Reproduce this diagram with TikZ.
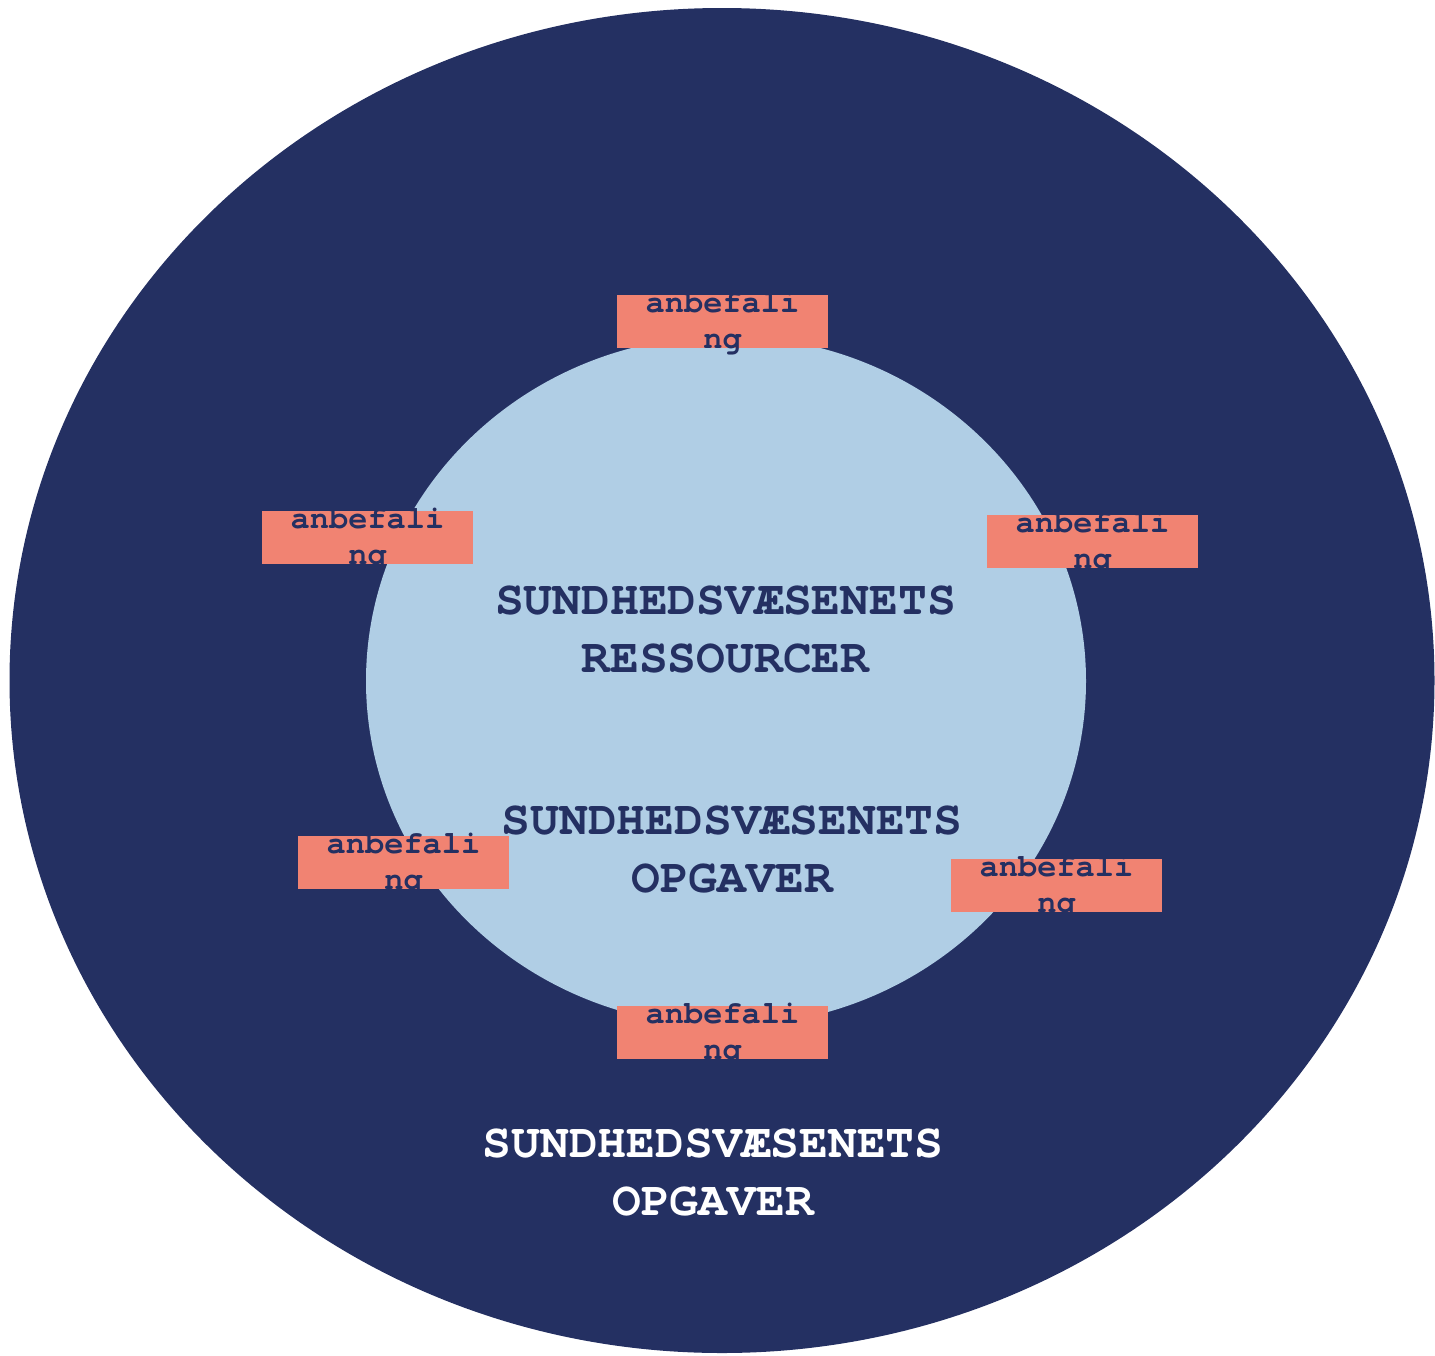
\documentclass[tikz,border=0pt]{standalone}
\usepackage{fontspec}
\usetikzlibrary{shapes.geometric}
\newfontfamily\cour{texgyrecursor}[Extension=.otf, UprightFont=*-regular, BoldFont=*-bold]
\definecolor{navy}{RGB}{36,48,98}
\definecolor{paleblue}{RGB}{176,206,229}
\definecolor{salmon}{RGB}{241,131,114}
\tikzset{
  recbox/.style={rectangle, fill=salmon, inner sep=0pt, minimum width=211pt,
    text height=53pt, text depth=-1pt, align=center, text=navy,
    font=\cour\bfseries\fontsize{32}{36}\selectfont, anchor=north},
  bigtxt/.style={align=center, anchor=base, inner sep=0pt,
    font=\cour\bfseries\fontsize{48}{58}\selectfont},
}
\begin{document}
\begin{tikzpicture}[x=1pt,y=-1pt]
\useasboundingbox (0,0) rectangle (1435,1355);
\node[ellipse, fill=navy, minimum width=1425pt, minimum height=1345pt, inner sep=0pt] (outer) at (722,680.5) {};
\node[ellipse, fill=paleblue, minimum width=720pt, minimum height=690pt, inner sep=0pt] (inner) at (726,681) {};
\node[bigtxt, text=navy] (res) at (725.5,672) {SUNDHEDSVÆSENETS\\RESSOURCER};
\node[bigtxt, text=navy] (opg1) at (732,892) {SUNDHEDSVÆSENETS\\OPGAVER};
\node[bigtxt, text=white] (opg2) at (713,1215) {SUNDHEDSVÆSENETS\\OPGAVER};
\node[recbox] (b1) at (722.5,295) {anbefali\\ng};
\node[recbox] (b2) at (1092.5,515) {anbefali\\ng};
\node[recbox] (b3) at (367.5,511) {anbefali\\ng};
\node[recbox] (b4) at (403.5,836) {anbefali\\ng};
\node[recbox] (b5) at (1056.5,859) {anbefali\\ng};
\node[recbox] (b6) at (722.5,1006) {anbefali\\ng};
\end{tikzpicture}
\end{document}
